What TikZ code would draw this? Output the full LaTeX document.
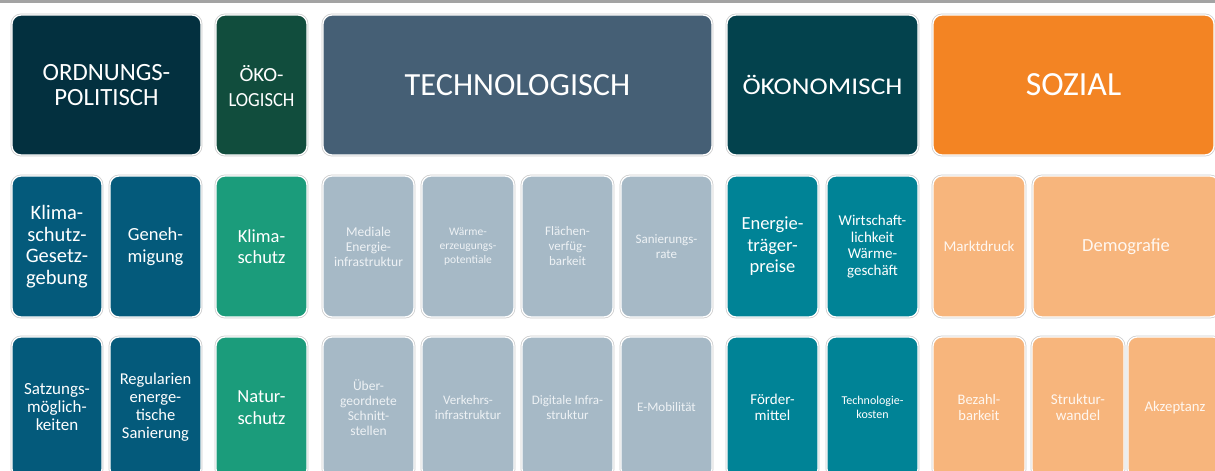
\documentclass[tikz,border=0pt]{standalone}
\usepackage{fontspec}
\setmainfont{Carlito}
\definecolor{cOrd}{HTML}{03303F}
\definecolor{cOeko}{HTML}{114D3D}
\definecolor{cTech}{HTML}{455F75}
\definecolor{cOekon}{HTML}{03424D}
\definecolor{cSoz}{HTML}{F38423}
\definecolor{cOrdS}{HTML}{045A7B}
\definecolor{cOekoS}{HTML}{1B9C7B}
\definecolor{cTechS}{HTML}{A6B9C6}
\definecolor{cOekonS}{HTML}{008396}
\definecolor{cSozS}{HTML}{F7B57C}
\definecolor{cLine}{HTML}{A3A3A3}
\definecolor{cTxtLight}{HTML}{EEF2F5}
\definecolor{cTxtPeach}{HTML}{FFF7F0}
\newcommand{\fs}[2]{\fontsize{#1}{#2}\selectfont}
\tikzset{
  box/.style={rectangle, rounded corners=9pt, draw=white, line width=1.3pt,
    preaction={draw=black!20, line width=2.8pt},
    text=white, align=center, inner sep=0pt},
  head/.style={box, minimum height=140pt},
  cell/.style={box, minimum height=141pt},
}
\begin{document}
\begin{tikzpicture}[x=1pt,y=-1pt]
\useasboundingbox (0,0) rectangle (1215,471);
\clip (0,0) rectangle (1215,471);
\fill[white] (0,0) rectangle (1215,471);
\fill[cLine] (0,0) rectangle (1215,2.6);
% header row
\node[head, fill=cOrd, minimum width=189pt, font=\fs{24.8}{24.5}] (ord) at (106.5,85) {ORDNUNGS-\\POLITISCH};
\node[head, fill=cOeko, minimum width=91pt] (oeko) at (261.5,85) {};
\node[font=\fs{20}{24.5}, text=white, align=center, inner sep=0pt] (oekotxt) at (261.5,86) {\resizebox{44pt}{\height}{ÖKO-}\\\resizebox{66pt}{\height}{LOGISCH}};
\node[head, fill=cTech, minimum width=389pt, font=\fs{32.3}{32}] (tech) at (517.5,85) {TECHNOLOGISCH};
\node[head, fill=cOekon, minimum width=191pt, font=\fs{24}{24}] (oekon) at (822.5,85) {\resizebox{160pt}{\height}{ÖKONOMISCH}};
\node[head, fill=cSoz, minimum width=281pt, font=\fs{33.8}{34}] (soz) at (1073.5,85) {SOZIAL};
% middle row
\node[cell, fill=cOrdS, minimum width=90pt, font=\fs{20.5}{21.5}] (m1) at (57,246.5) {Klima-\\schutz-\\Gesetz-\\gebung};
\node[cell, fill=cOrdS, minimum width=91pt, font=\fs{18.5}{21.5}] (m2) at (155.5,246.5) {Geneh-\\migung};
\node[cell, fill=cOekoS, minimum width=91pt, font=\fs{18.5}{21.5}] (m3) at (261.5,246.5) {Klima-\\schutz};
\node[cell, fill=cTechS, minimum width=91pt, text=cTxtLight, font=\fs{13.5}{15}] (m4) at (368.5,246.5) {Mediale\\Energie-\\infrastruktur};
\node[cell, fill=cTechS, minimum width=92pt, text=cTxtLight, font=\fs{11.5}{14}] (m5) at (468,246.5) {Wärme-\\erzeugungs-\\potentiale};
\node[cell, fill=cTechS, minimum width=91pt, text=cTxtLight, font=\fs{13}{15}] (m6) at (567.5,246.5) {Flächen-\\verfüg-\\barkeit};
\node[cell, fill=cTechS, minimum width=91pt, text=cTxtLight, font=\fs{13}{14.5}] (m7) at (666.5,246.5) {Sanierungs-\\rate};
\node[cell, fill=cOekonS, minimum width=91pt, font=\fs{18.5}{21.5}] (m8) at (772.5,246.5) {Energie-\\träger-\\preise};
\node[cell, fill=cOekonS, minimum width=91pt, font=\fs{15}{16.7}] (m9) at (872.5,246.5) {Wirtschaft-\\lichkeit\\Wärme-\\geschäft};
\node[cell, fill=cSozS, minimum width=92pt, text=cTxtPeach, font=\fs{15}{16}] (m10) at (979,246.5) {Marktdruck};
\node[cell, fill=cSozS, minimum width=186pt, text=cTxtPeach, font=\fs{18.5}{20}] (m11) at (1126,246.5) {Demografie};
% bottom row
\node[cell, fill=cOrdS, minimum width=90pt, font=\fs{17}{18}] (b1) at (57,407.5) {Satzungs-\\möglich-\\keiten};
\node[cell, fill=cOrdS, minimum width=91pt, font=\fs{16.5}{18}] (b2) at (155.5,407.5) {Regularien\\energe-\\tische\\Sanierung};
\node[cell, fill=cOekoS, minimum width=91pt, font=\fs{18.5}{21.5}] (b3) at (261.5,407.5) {Natur-\\schutz};
\node[cell, fill=cTechS, minimum width=91pt, text=cTxtLight, font=\fs{13.5}{15}] (b4) at (368.5,407.5) {Über-\\geordnete\\Schnitt-\\stellen};
\node[cell, fill=cTechS, minimum width=92pt, text=cTxtLight, font=\fs{13}{15}] (b5) at (468,407.5) {Verkehrs-\\infrastruktur};
\node[cell, fill=cTechS, minimum width=91pt, text=cTxtLight, font=\fs{13}{15}] (b6) at (567.5,407.5) {Digitale Infra-\\struktur};
\node[cell, fill=cTechS, minimum width=91pt, text=cTxtLight, font=\fs{13}{15}] (b7) at (666.5,407.5) {E-Mobilität};
\node[cell, fill=cOekonS, minimum width=91pt, font=\fs{15}{16.3}] (b8) at (772.5,407.5) {Förder-\\mittel};
\node[cell, fill=cOekonS, minimum width=91pt, font=\fs{12}{13.3}] (b9) at (872.5,407.5) {Technologie-\\kosten};
\node[cell, fill=cSozS, minimum width=92pt, text=cTxtPeach, font=\fs{14.5}{16.3}] (b10) at (979,407.5) {Bezahl-\\barkeit};
\node[cell, fill=cSozS, minimum width=92pt, text=cTxtPeach, font=\fs{15}{16.3}] (b11) at (1078,407.5) {Struktur-\\wandel};
\node[cell, fill=cSozS, minimum width=94pt, text=cTxtPeach, font=\fs{14.7}{16}] (b12) at (1175,407.5) {Akzeptanz};
\end{tikzpicture}
\end{document}
